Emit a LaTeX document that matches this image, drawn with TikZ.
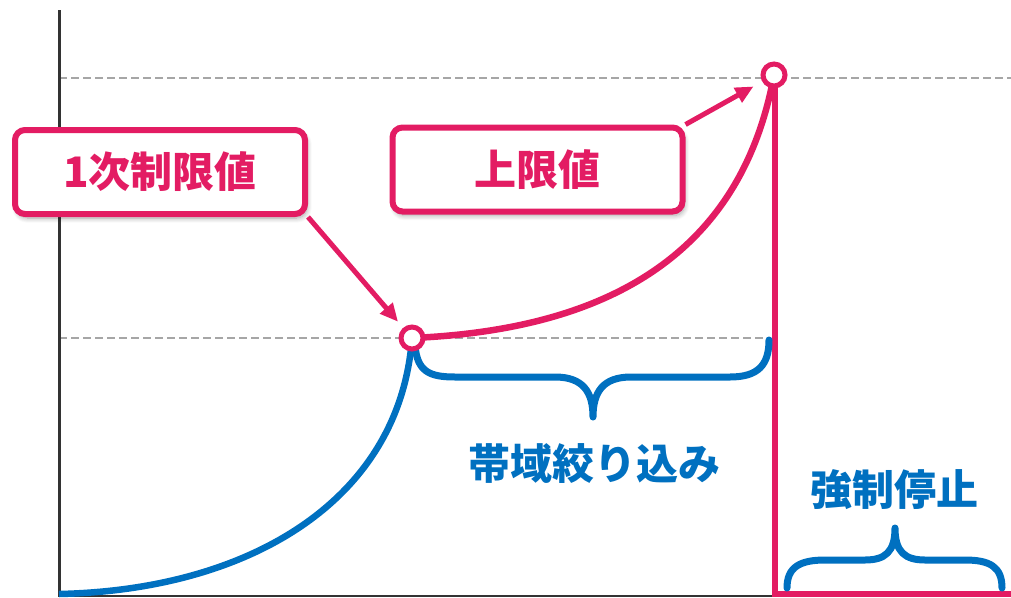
\documentclass[tikz,border=0pt]{standalone}
\usepackage{fontspec}
\newfontfamily\jp{Noto Sans CJK JP}
\usetikzlibrary{shadows,shadows.blur,arrows.meta}
\definecolor{pk}{HTML}{E31C63}
\definecolor{bl}{HTML}{0070C0}
\definecolor{dg}{HTML}{A6A6A6}
\definecolor{ax}{HTML}{333333}
\begin{document}
\begin{tikzpicture}[x=1pt,y=-1pt,
  guide/.style={draw=dg, line width=2.5pt, dash pattern=on 8pt off 4pt},
  axisline/.style={draw=ax, line width=3pt},
  bcurve/.style={draw=bl, line width=6.5pt},
  pcurve/.style={draw=pk, line width=6.5pt},
  brc/.style={draw=bl, line width=7pt, line cap=round, line join=round},
  callout/.style={draw=pk, line width=6pt, fill=white, rounded corners=10pt, text=pk,
    font=\jp\bfseries\fontsize{42}{46}\selectfont, inner sep=0pt,
    minimum width=290pt, minimum height=84pt,
    blur shadow={shadow xshift=2pt, shadow yshift=-4pt, shadow opacity=35, shadow blur radius=5pt, shadow blur steps=12}},
  lbl/.style={text=bl, font=\jp\bfseries\fontsize{42}{46}\selectfont, inner sep=0pt},
  dot/.style={circle, draw=pk, line width=5pt, fill=white, minimum size=22pt, inner sep=0pt},
  arr/.style={draw=pk, line width=5pt, -{Triangle[length=18pt,width=16pt]}}
]
\useasboundingbox (0,0) rectangle (1011,597);
\coordinate (p1) at (412,338);
\coordinate (p2) at (774,75);
% guides
\draw[guide] (59,78) -- (1011,78);
\draw[guide] (59,338) -- (770,338);
% axes
\draw[axisline] (59,10) -- (59,597);
\draw[axisline, line width=2pt] (59,596) -- (1011,596);
% curves
\draw[bcurve] (59,594) .. controls (250,590) and (400,500) .. (p1);
\draw[pcurve] (p1) .. controls (600,330) and (740,260) .. (p2);
\draw[pcurve, line join=miter] (775,80) -- (775,594) -- (1011,594);
% braces
\draw[brc] (415,345) .. controls (417,372) and (430,377) .. (455,377) -- (555,377)
  .. controls (583,377) and (593,392) .. (593,417)
  .. controls (593,392) and (603,377) .. (631,377) -- (730,377)
  .. controls (758,377) and (769,365) .. (769,340);
\draw[brc] (787,588) .. controls (787,567) and (800,560) .. (825,560) -- (865,560)
  .. controls (885,560) and (895,552) .. (895,528)
  .. controls (895,552) and (905,560) .. (925,560) -- (965,560)
  .. controls (990,560) and (1002,567) .. (1002,588);
% labels
\node[lbl] (t1) at (594,464) {帯域絞り込み};
\node[lbl] (t2) at (894,490) {強制停止};
% callouts
\node[callout] (b1) at (160,172) {1次制限値};
\node[callout] (b2) at (537.5,169.5) {上限値};
% markers
\node[dot] (c1) at (p1) {};
\node[dot] (c2) at (p2) {};
% arrows
\draw[arr, shorten >=8pt] (b1.south east) -- (c1);
\draw[arr, shorten >=10pt] (b2.north east) -- (c2);
\end{tikzpicture}
\end{document}
